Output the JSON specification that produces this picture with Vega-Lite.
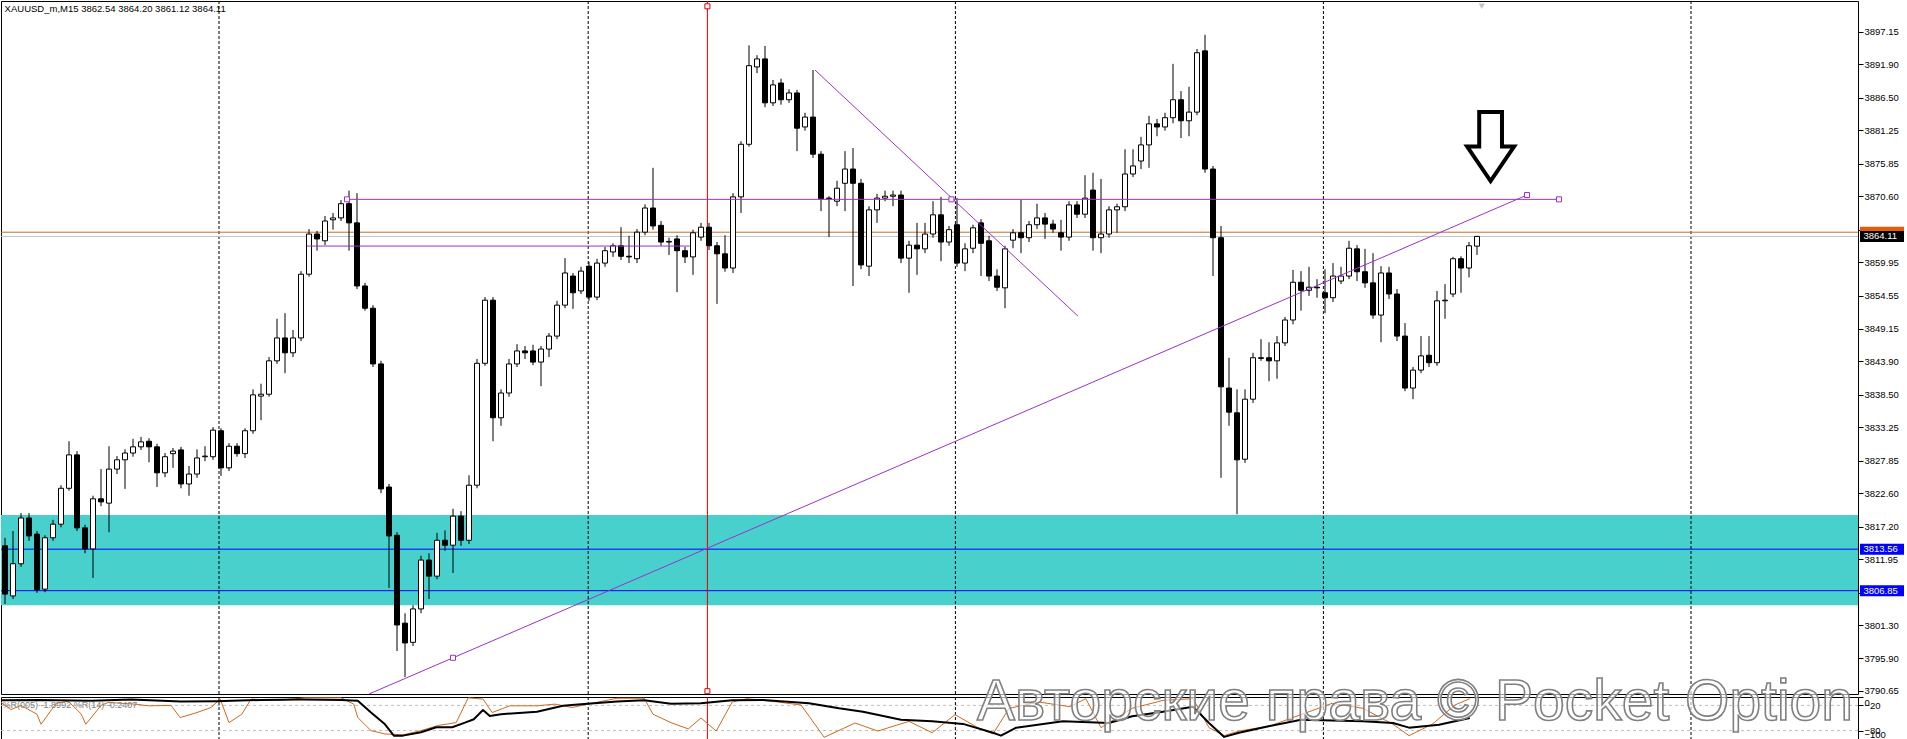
{
"$schema":"https://vega.github.io/schema/vega-lite/v6.json",
"padding":0,
"background":"white",
"spacing":3,
"bounds":"flush",
"config":{"view":{"stroke":"black","strokeWidth":1},"font":"Liberation Sans","scale":{"continuousPadding":0},
 "axis":{"labelOverlap":false,"grid":false,"domain":false,"tickSize":5,"tickColor":"#000000","labelColor":"#000000","labelFont":"Liberation Sans","labelFontSize":9.5,"labelPadding":1}},
"datasets":{
"candles":[
{"t":0,"o":3814.1,"h":3815.4,"l":3804.7,"c":3806.3},
{"t":1,"o":3806.0,"h":3816.5,"l":3805.5,"c":3811.2},
{"t":2,"o":3811.2,"h":3819.4,"l":3810.7,"c":3818.6},
{"t":3,"o":3818.6,"h":3819.4,"l":3814.9,"c":3815.7},
{"t":4,"o":3816.0,"h":3816.5,"l":3806.5,"c":3807.0},
{"t":5,"o":3807.1,"h":3815.8,"l":3806.6,"c":3815.4},
{"t":6,"o":3815.4,"h":3818.3,"l":3814.9,"c":3817.6},
{"t":7,"o":3817.6,"h":3823.9,"l":3817.1,"c":3823.4},
{"t":8,"o":3823.4,"h":3831.0,"l":3823.0,"c":3828.8},
{"t":9,"o":3828.8,"h":3829.4,"l":3816.5,"c":3817.0},
{"t":10,"o":3817.0,"h":3817.5,"l":3812.9,"c":3813.6},
{"t":11,"o":3813.6,"h":3822.2,"l":3808.9,"c":3821.7},
{"t":12,"o":3821.7,"h":3826.5,"l":3820.5,"c":3821.2},
{"t":13,"o":3821.0,"h":3830.2,"l":3816.3,"c":3826.5},
{"t":14,"o":3826.5,"h":3828.6,"l":3825.7,"c":3828.0},
{"t":15,"o":3828.0,"h":3829.7,"l":3823.3,"c":3829.1},
{"t":16,"o":3829.1,"h":3831.4,"l":3828.5,"c":3830.1},
{"t":17,"o":3830.1,"h":3831.7,"l":3829.6,"c":3830.9},
{"t":18,"o":3831.0,"h":3831.5,"l":3827.6,"c":3830.1},
{"t":19,"o":3830.1,"h":3830.6,"l":3823.6,"c":3825.9},
{"t":20,"o":3825.9,"h":3829.1,"l":3825.2,"c":3828.5},
{"t":21,"o":3829.0,"h":3829.9,"l":3826.7,"c":3829.4},
{"t":22,"o":3829.6,"h":3830.1,"l":3823.4,"c":3824.1},
{"t":23,"o":3824.1,"h":3827.0,"l":3822.2,"c":3825.7},
{"t":24,"o":3825.7,"h":3829.7,"l":3825.1,"c":3828.3},
{"t":25,"o":3828.5,"h":3830.2,"l":3827.8,"c":3828.6},
{"t":26,"o":3828.5,"h":3833.3,"l":3828.0,"c":3832.8},
{"t":27,"o":3832.7,"h":3833.1,"l":3825.4,"c":3826.7},
{"t":28,"o":3826.7,"h":3830.7,"l":3826.2,"c":3830.2},
{"t":29,"o":3830.2,"h":3830.7,"l":3828.5,"c":3829.0},
{"t":30,"o":3829.0,"h":3833.1,"l":3828.3,"c":3832.7},
{"t":31,"o":3832.7,"h":3839.4,"l":3832.2,"c":3838.5},
{"t":32,"o":3838.3,"h":3840.3,"l":3834.4,"c":3838.6},
{"t":33,"o":3838.6,"h":3844.6,"l":3838.2,"c":3844.0},
{"t":34,"o":3844.0,"h":3850.8,"l":3843.5,"c":3847.7},
{"t":35,"o":3847.7,"h":3851.7,"l":3842.0,"c":3845.3},
{"t":36,"o":3845.3,"h":3849.0,"l":3844.6,"c":3847.7},
{"t":37,"o":3847.7,"h":3858.5,"l":3847.2,"c":3858.0},
{"t":38,"o":3858.0,"h":3865.3,"l":3857.6,"c":3864.5},
{"t":39,"o":3864.5,"h":3865.0,"l":3861.8,"c":3863.7},
{"t":40,"o":3863.4,"h":3867.4,"l":3862.7,"c":3866.6},
{"t":41,"o":3866.8,"h":3867.9,"l":3865.2,"c":3867.1},
{"t":42,"o":3867.1,"h":3870.0,"l":3866.6,"c":3869.4},
{"t":43,"o":3869.4,"h":3871.5,"l":3861.8,"c":3866.3},
{"t":44,"o":3866.3,"h":3871.1,"l":3855.6,"c":3856.1},
{"t":45,"o":3856.1,"h":3856.6,"l":3852.1,"c":3852.5},
{"t":46,"o":3852.5,"h":3853.0,"l":3843.0,"c":3843.5},
{"t":47,"o":3843.5,"h":3844.0,"l":3822.6,"c":3823.3},
{"t":48,"o":3823.6,"h":3824.1,"l":3807.3,"c":3815.7},
{"t":49,"o":3815.8,"h":3816.3,"l":3797.1,"c":3801.3},
{"t":50,"o":3801.6,"h":3803.2,"l":3792.9,"c":3798.4},
{"t":51,"o":3798.5,"h":3804.5,"l":3797.9,"c":3803.9},
{"t":52,"o":3803.9,"h":3812.5,"l":3803.2,"c":3811.8},
{"t":53,"o":3811.8,"h":3812.9,"l":3805.5,"c":3809.2},
{"t":54,"o":3809.2,"h":3816.2,"l":3808.7,"c":3815.0},
{"t":55,"o":3815.0,"h":3816.6,"l":3813.3,"c":3814.2},
{"t":56,"o":3814.2,"h":3820.1,"l":3809.7,"c":3818.9},
{"t":57,"o":3818.9,"h":3819.7,"l":3814.1,"c":3815.0},
{"t":58,"o":3815.0,"h":3825.5,"l":3814.4,"c":3823.9},
{"t":59,"o":3823.9,"h":3844.3,"l":3823.4,"c":3843.6},
{"t":60,"o":3843.6,"h":3854.3,"l":3843.2,"c":3853.8},
{"t":61,"o":3853.8,"h":3854.3,"l":3831.0,"c":3834.8},
{"t":62,"o":3834.8,"h":3839.4,"l":3833.5,"c":3838.8},
{"t":63,"o":3838.8,"h":3844.3,"l":3838.2,"c":3843.5},
{"t":64,"o":3843.5,"h":3846.7,"l":3843.0,"c":3845.6},
{"t":65,"o":3845.6,"h":3846.4,"l":3844.3,"c":3845.3},
{"t":66,"o":3845.6,"h":3846.6,"l":3843.3,"c":3843.8},
{"t":67,"o":3843.8,"h":3846.4,"l":3839.9,"c":3845.9},
{"t":68,"o":3845.9,"h":3848.5,"l":3844.6,"c":3848.0},
{"t":69,"o":3848.0,"h":3853.7,"l":3847.5,"c":3853.0},
{"t":70,"o":3853.0,"h":3860.6,"l":3852.5,"c":3858.2},
{"t":71,"o":3857.7,"h":3858.2,"l":3852.4,"c":3855.0},
{"t":72,"o":3855.3,"h":3859.2,"l":3854.8,"c":3858.5},
{"t":73,"o":3859.3,"h":3860.0,"l":3853.7,"c":3854.3},
{"t":74,"o":3854.3,"h":3860.5,"l":3853.8,"c":3859.8},
{"t":75,"o":3859.8,"h":3862.4,"l":3859.2,"c":3861.8},
{"t":76,"o":3861.6,"h":3863.0,"l":3860.8,"c":3862.6},
{"t":77,"o":3862.6,"h":3865.6,"l":3860.3,"c":3860.9},
{"t":78,"o":3860.9,"h":3864.2,"l":3859.8,"c":3860.8},
{"t":79,"o":3860.5,"h":3865.3,"l":3859.8,"c":3864.8},
{"t":80,"o":3864.8,"h":3869.3,"l":3864.3,"c":3868.7},
{"t":81,"o":3868.7,"h":3875.2,"l":3865.2,"c":3865.8},
{"t":82,"o":3865.9,"h":3866.6,"l":3862.6,"c":3863.2},
{"t":83,"o":3863.2,"h":3863.9,"l":3861.1,"c":3863.3},
{"t":84,"o":3863.7,"h":3864.3,"l":3855.1,"c":3861.8},
{"t":85,"o":3861.8,"h":3862.4,"l":3859.8,"c":3860.8},
{"t":86,"o":3860.8,"h":3865.2,"l":3857.9,"c":3864.7},
{"t":87,"o":3864.0,"h":3866.3,"l":3863.4,"c":3865.6},
{"t":88,"o":3865.6,"h":3866.3,"l":3861.9,"c":3862.6},
{"t":89,"o":3862.6,"h":3863.2,"l":3853.2,"c":3861.3},
{"t":90,"o":3861.3,"h":3864.3,"l":3858.4,"c":3859.0},
{"t":91,"o":3859.0,"h":3871.1,"l":3858.2,"c":3870.5},
{"t":92,"o":3870.5,"h":3879.5,"l":3867.9,"c":3879.0},
{"t":93,"o":3879.0,"h":3895.0,"l":3878.6,"c":3891.7},
{"t":94,"o":3891.5,"h":3893.4,"l":3890.5,"c":3892.8},
{"t":95,"o":3892.8,"h":3894.9,"l":3885.0,"c":3885.7},
{"t":96,"o":3885.7,"h":3889.4,"l":3885.2,"c":3888.6},
{"t":97,"o":3888.9,"h":3889.6,"l":3885.4,"c":3886.2},
{"t":98,"o":3886.2,"h":3887.9,"l":3885.7,"c":3887.3},
{"t":99,"o":3887.3,"h":3887.8,"l":3877.9,"c":3881.6},
{"t":100,"o":3881.8,"h":3884.1,"l":3881.2,"c":3883.4},
{"t":101,"o":3883.4,"h":3891.0,"l":3876.8,"c":3877.4},
{"t":102,"o":3877.4,"h":3877.9,"l":3868.2,"c":3870.2},
{"t":103,"o":3870.2,"h":3870.6,"l":3864.0,"c":3870.3},
{"t":104,"o":3869.8,"h":3873.1,"l":3869.0,"c":3871.9},
{"t":105,"o":3872.7,"h":3877.9,"l":3868.2,"c":3875.0},
{"t":106,"o":3875.0,"h":3878.4,"l":3856.1,"c":3872.7},
{"t":107,"o":3872.7,"h":3873.4,"l":3858.8,"c":3859.5},
{"t":108,"o":3859.3,"h":3869.0,"l":3857.7,"c":3868.4},
{"t":109,"o":3868.4,"h":3871.0,"l":3866.3,"c":3870.3},
{"t":110,"o":3870.3,"h":3871.5,"l":3869.8,"c":3870.6},
{"t":111,"o":3870.6,"h":3871.5,"l":3869.0,"c":3870.8},
{"t":112,"o":3870.8,"h":3871.5,"l":3859.8,"c":3860.6},
{"t":113,"o":3860.6,"h":3863.4,"l":3855.0,"c":3862.7},
{"t":114,"o":3862.7,"h":3866.3,"l":3857.9,"c":3862.1},
{"t":115,"o":3862.1,"h":3866.3,"l":3861.4,"c":3864.5},
{"t":116,"o":3864.5,"h":3869.8,"l":3863.9,"c":3867.6},
{"t":117,"o":3867.6,"h":3870.5,"l":3860.1,"c":3863.2},
{"t":118,"o":3863.2,"h":3865.8,"l":3862.6,"c":3865.2},
{"t":119,"o":3866.0,"h":3870.3,"l":3859.2,"c":3859.8},
{"t":120,"o":3859.8,"h":3863.0,"l":3858.5,"c":3862.1},
{"t":121,"o":3862.2,"h":3866.0,"l":3861.4,"c":3865.5},
{"t":122,"o":3866.3,"h":3866.9,"l":3857.7,"c":3863.0},
{"t":123,"o":3863.4,"h":3864.2,"l":3856.9,"c":3857.7},
{"t":124,"o":3857.7,"h":3858.8,"l":3855.3,"c":3855.9},
{"t":125,"o":3855.8,"h":3862.6,"l":3852.5,"c":3862.1},
{"t":126,"o":3863.5,"h":3865.3,"l":3862.2,"c":3864.7},
{"t":127,"o":3864.7,"h":3870.0,"l":3861.4,"c":3863.9},
{"t":128,"o":3863.9,"h":3866.6,"l":3863.2,"c":3866.0},
{"t":129,"o":3866.0,"h":3869.4,"l":3865.3,"c":3867.1},
{"t":130,"o":3867.1,"h":3867.9,"l":3863.7,"c":3866.1},
{"t":131,"o":3866.1,"h":3866.8,"l":3864.7,"c":3865.3},
{"t":132,"o":3864.7,"h":3866.8,"l":3861.8,"c":3864.0},
{"t":133,"o":3864.0,"h":3869.8,"l":3863.4,"c":3869.2},
{"t":134,"o":3869.2,"h":3869.8,"l":3867.1,"c":3867.7},
{"t":135,"o":3867.7,"h":3874.0,"l":3867.1,"c":3870.3},
{"t":136,"o":3871.6,"h":3874.4,"l":3861.8,"c":3863.9},
{"t":137,"o":3863.9,"h":3873.4,"l":3861.4,"c":3864.5},
{"t":138,"o":3864.5,"h":3869.0,"l":3863.9,"c":3868.4},
{"t":139,"o":3868.4,"h":3869.4,"l":3864.7,"c":3868.9},
{"t":140,"o":3868.9,"h":3878.2,"l":3868.2,"c":3874.2},
{"t":141,"o":3874.2,"h":3878.2,"l":3873.7,"c":3875.5},
{"t":142,"o":3876.3,"h":3880.2,"l":3875.0,"c":3878.9},
{"t":143,"o":3878.9,"h":3883.6,"l":3875.2,"c":3882.3},
{"t":144,"o":3882.3,"h":3883.1,"l":3880.3,"c":3881.8},
{"t":145,"o":3881.8,"h":3884.1,"l":3881.2,"c":3883.3},
{"t":146,"o":3883.3,"h":3892.0,"l":3882.4,"c":3886.2},
{"t":147,"o":3886.2,"h":3887.6,"l":3880.0,"c":3882.8},
{"t":148,"o":3882.8,"h":3888.3,"l":3880.3,"c":3884.2},
{"t":149,"o":3884.2,"h":3894.4,"l":3883.7,"c":3893.8},
{"t":150,"o":3894.1,"h":3896.7,"l":3874.4,"c":3875.0},
{"t":151,"o":3875.0,"h":3875.5,"l":3857.7,"c":3863.9},
{"t":152,"o":3863.9,"h":3865.8,"l":3825.1,"c":3839.8},
{"t":153,"o":3839.6,"h":3844.5,"l":3833.5,"c":3835.7},
{"t":154,"o":3835.6,"h":3839.4,"l":3819.2,"c":3828.0},
{"t":155,"o":3828.1,"h":3839.4,"l":3827.5,"c":3837.8},
{"t":156,"o":3837.8,"h":3845.3,"l":3837.2,"c":3844.5},
{"t":157,"o":3844.5,"h":3847.5,"l":3844.0,"c":3844.4},
{"t":158,"o":3844.5,"h":3847.0,"l":3840.7,"c":3844.0},
{"t":159,"o":3844.0,"h":3848.0,"l":3841.1,"c":3846.9},
{"t":160,"o":3846.9,"h":3851.1,"l":3846.4,"c":3850.6},
{"t":161,"o":3850.6,"h":3858.7,"l":3849.9,"c":3856.7},
{"t":162,"o":3856.7,"h":3858.5,"l":3852.1,"c":3855.4},
{"t":163,"o":3855.4,"h":3859.2,"l":3854.5,"c":3855.9},
{"t":164,"o":3855.9,"h":3857.2,"l":3854.2,"c":3855.8},
{"t":165,"o":3855.0,"h":3858.8,"l":3851.7,"c":3854.2},
{"t":166,"o":3854.2,"h":3859.8,"l":3853.5,"c":3857.7},
{"t":167,"o":3856.9,"h":3859.2,"l":3856.4,"c":3857.7},
{"t":168,"o":3857.7,"h":3863.4,"l":3857.2,"c":3862.2},
{"t":169,"o":3862.1,"h":3862.7,"l":3856.9,"c":3858.4},
{"t":170,"o":3858.4,"h":3862.1,"l":3855.8,"c":3856.6},
{"t":171,"o":3856.6,"h":3861.4,"l":3850.8,"c":3851.4},
{"t":172,"o":3851.4,"h":3859.3,"l":3847.0,"c":3858.2},
{"t":173,"o":3858.2,"h":3859.2,"l":3854.0,"c":3854.8},
{"t":174,"o":3854.8,"h":3855.6,"l":3847.2,"c":3848.0},
{"t":175,"o":3848.0,"h":3850.1,"l":3839.1,"c":3839.6},
{"t":176,"o":3839.6,"h":3843.0,"l":3837.8,"c":3842.5},
{"t":177,"o":3842.5,"h":3848.0,"l":3842.0,"c":3844.8},
{"t":178,"o":3844.9,"h":3848.0,"l":3843.0,"c":3843.7},
{"t":179,"o":3843.7,"h":3855.3,"l":3843.2,"c":3853.7},
{"t":180,"o":3853.7,"h":3856.4,"l":3850.8,"c":3853.8},
{"t":181,"o":3854.8,"h":3860.8,"l":3854.3,"c":3860.5},
{"t":182,"o":3860.5,"h":3860.9,"l":3855.0,"c":3859.0},
{"t":183,"o":3859.0,"h":3863.2,"l":3857.5,"c":3862.6},
{"t":184,"o":3862.54,"h":3864.20,"l":3861.12,"c":3864.11}
],
"grid":[{"t":26.75},{"t":72.9},{"t":118.8},{"t":164.8},{"t":210.75}],
"cursor":[{"t":87.8}],
"cursorMarks":[{"t":87.8,"p":3901.3},{"t":87.8,"p":3790.6}],
"levels":[{"level":"Ask","p":3864.79},{"level":"Bid","p":3864.11},{"level":"Level 1","p":3813.56},{"level":"Level 2","p":3806.85}],
"trendlines":[
{"id":"top","t":42.75,"p":3870.1},{"id":"top","t":194.25,"p":3870.1},
{"id":"mid","t":37.75,"p":3862.55},{"id":"mid","t":85.6,"p":3862.55},
{"id":"diag","t":101.25,"p":3891.0},{"id":"diag","t":134.1,"p":3851.25},
{"id":"trend","t":45.5,"p":3790.15},{"id":"trend","t":190.25,"p":3870.8}
],
"anchors":[{"t":42.75,"p":3870.1},{"t":118.3,"p":3870.1},{"t":194.25,"p":3870.1},{"t":56,"p":3796.0},{"t":190.25,"p":3870.8}],
"arrow":[{"t":185.7,"p":3878.64}],
"shift":[{"t":184.6,"p":3901.3}],
"header":[{"label":"XAUUSD_m,M15  3862.54 3864.20 3861.12 3864.11"}],
"wprLevels":[{"v":-20},{"v":-80}],
"wprSlow":[
{"t":-0.5,"v":-8},{"t":4.5,"v":-7},{"t":10.75,"v":-9},{"t":15.75,"v":-6},{"t":22,"v":-11},{"t":26.4,"v":-10},{"t":32,"v":-7},{"t":37,"v":-6},{"t":42,"v":-7},{"t":44.1,"v":-9},{"t":45.75,"v":-37},{"t":47.5,"v":-65},{"t":48.6,"v":-92},{"t":49.75,"v":-92},{"t":52,"v":-84},{"t":53.9,"v":-72},{"t":55.9,"v":-72},{"t":57.5,"v":-61},{"t":58.6,"v":-53},{"t":59.75,"v":-31},{"t":60.6,"v":-45},{"t":62,"v":-41},{"t":66.5,"v":-35},{"t":69.75,"v":-21},{"t":72,"v":-17},{"t":76.5,"v":-11},{"t":79.9,"v":-8},{"t":83.25,"v":-16},{"t":87,"v":-15},{"t":90.9,"v":-8},{"t":94.75,"v":-7},{"t":100.5,"v":-15},{"t":104.25,"v":-27},{"t":107.25,"v":-35},{"t":112,"v":-54},{"t":115.9,"v":-58},{"t":119.75,"v":-64},{"t":123.5,"v":-85},{"t":124.5,"v":-92},{"t":126.4,"v":-73},{"t":132.25,"v":-58},{"t":138,"v":-62},{"t":140.9,"v":-46},{"t":144.75,"v":-35},{"t":148.5,"v":-23},{"t":150.5,"v":-62},{"t":152.4,"v":-95},{"t":154.25,"v":-85},{"t":158.1,"v":-69},{"t":162,"v":-54},{"t":169.75,"v":-58},{"t":173.5,"v":-62},{"t":175.5,"v":-73},{"t":179.25,"v":-66},{"t":183.1,"v":-50}
],
"wprFast":[
{"t":-0.5,"v":-13},{"t":0.75,"v":-30},{"t":2,"v":-20},{"t":4,"v":-41},{"t":4.5,"v":-65},{"t":6.4,"v":-15},{"t":7.9,"v":-10},{"t":9.5,"v":-40},{"t":10.1,"v":-65},{"t":12,"v":-20},{"t":12.9,"v":-13},{"t":16.25,"v":-17},{"t":17.9,"v":-21},{"t":20.75,"v":-20},{"t":21.9,"v":-49},{"t":24,"v":-37},{"t":25.75,"v":-25},{"t":26.9,"v":-5},{"t":28,"v":-61},{"t":29.6,"v":-41},{"t":30.75,"v":-5},{"t":34.1,"v":-8},{"t":37.5,"v":-2},{"t":42,"v":-2},{"t":43.6,"v":-17},{"t":44.1,"v":-49},{"t":45.75,"v":-80},{"t":47.5,"v":-88},{"t":49.75,"v":-90},{"t":52,"v":-80},{"t":54.1,"v":-68},{"t":56.4,"v":-61},{"t":57.9,"v":-2},{"t":59.75,"v":-5},{"t":60.9,"v":-37},{"t":63.1,"v":-21},{"t":66.5,"v":-21},{"t":68.75,"v":-17},{"t":70.9,"v":-25},{"t":73.1,"v":-16},{"t":76.5,"v":-3},{"t":79.9,"v":-3},{"t":81,"v":-41},{"t":83.25,"v":-61},{"t":85.4,"v":-76},{"t":87,"v":-50},{"t":88.9,"v":-81},{"t":90.9,"v":-12},{"t":92.75,"v":-4},{"t":96.6,"v":-12},{"t":99.5,"v":-19},{"t":102.4,"v":-96},{"t":106.25,"v":-62},{"t":109.1,"v":-81},{"t":113,"v":-58},{"t":115.9,"v":-85},{"t":118.75,"v":-42},{"t":121.6,"v":-73},{"t":123.5,"v":-88},{"t":125.5,"v":-27},{"t":129.25,"v":-12},{"t":133.1,"v":-23},{"t":135.1,"v":-4},{"t":137,"v":-73},{"t":140.9,"v":-27},{"t":144.75,"v":-8},{"t":148.5,"v":-4},{"t":150.5,"v":-73},{"t":152.4,"v":-92},{"t":154.25,"v":-81},{"t":158.1,"v":-69},{"t":162,"v":-42},{"t":165.9,"v":-15},{"t":169.75,"v":-27},{"t":173.5,"v":-65},{"t":175.5,"v":-92},{"t":178.4,"v":-65},{"t":181.25,"v":-19},{"t":183.1,"v":-4}
]
},
"vconcat":[
{
"width":1857,"height":693,
"layer":[
{"data":{"values":[{"zone":"demand","top":3819.1,"bottom":3804.5}]},
 "mark":{"type":"rect","color":"#48D1CC"},
 "encoding":{
  "x":{"datum":-0.5,"type":"quantitative","scale":{"domain":[-0.5,231.625],"nice":false,"zero":false,"padding":0},"axis":null},
  "x2":{"datum":231.625},
  "y":{"field":"top","type":"quantitative","scale":{"domain":[3790.15,3902.16],"nice":false,"zero":false,"padding":0},
   "axis":{"orient":"right","title":null,"values":[3897.15,3891.90,3886.50,3881.25,3875.85,3870.60,3865.20,3859.95,3854.55,3849.15,3843.90,3838.50,3833.25,3827.85,3822.60,3817.20,3811.95,3806.55,3801.30,3795.90,3790.65],"format":".2f","labelFlush":false,"labelOverlap":false,"zindex":0}},
  "y2":{"field":"bottom"}}},
{"data":{"name":"grid"},
 "mark":{"type":"rule","color":"#000000","strokeWidth":1,"strokeDash":[3,2]},
 "encoding":{"x":{"field":"t","type":"quantitative","axis":null}}},
{"data":{"name":"levels"},
 "mark":{"type":"rule","strokeWidth":1},
 "encoding":{
  "y":{"field":"p","type":"quantitative","axis":{"orient":"right","title":null,"values":[3897.15,3891.90,3886.50,3881.25,3875.85,3870.60,3865.20,3859.95,3854.55,3849.15,3843.90,3838.50,3833.25,3827.85,3822.60,3817.20,3811.95,3806.55,3801.30,3795.90,3790.65],"format":".2f","labelFlush":false,"labelOverlap":false,"zindex":0}},
  "stroke":{"field":"level","type":"nominal","scale":{"domain":["Ask","Bid","Level 1","Level 2"],"range":["#D2691E","#C0C0C0","#0000FF","#0000FF"]},"legend":null}}},
{"data":{"name":"cursor"},
 "mark":{"type":"rule","color":"#E00000","strokeWidth":1},
 "encoding":{"x":{"field":"t","type":"quantitative","axis":null}}},
{"data":{"name":"candles"},
 "mark":{"type":"rule","color":"#000000","strokeWidth":1},
 "encoding":{
  "x":{"field":"t","type":"quantitative","axis":null},
  "y":{"field":"l","type":"quantitative","axis":{"orient":"right","title":null,"values":[3897.15,3891.90,3886.50,3881.25,3875.85,3870.60,3865.20,3859.95,3854.55,3849.15,3843.90,3838.50,3833.25,3827.85,3822.60,3817.20,3811.95,3806.55,3801.30,3795.90,3790.65],"format":".2f","labelFlush":false,"labelOverlap":false,"zindex":0}},
  "y2":{"field":"h"}}},
{"data":{"name":"candles"},
 "mark":{"type":"bar","size":5,"stroke":"#000000","strokeWidth":1},
 "encoding":{
  "x":{"field":"t","type":"quantitative","axis":null},
  "y":{"field":"o","type":"quantitative","axis":{"orient":"right","title":null,"values":[3897.15,3891.90,3886.50,3881.25,3875.85,3870.60,3865.20,3859.95,3854.55,3849.15,3843.90,3838.50,3833.25,3827.85,3822.60,3817.20,3811.95,3806.55,3801.30,3795.90,3790.65],"format":".2f","labelFlush":false,"labelOverlap":false,"zindex":0}},
  "y2":{"field":"c"},
  "fill":{"condition":{"test":"datum.c < datum.o","value":"#000000"},"value":"#ffffff"}}},
{"data":{"name":"trendlines"},
 "mark":{"type":"line","color":"#9932CC","strokeWidth":1,"clip":true,"strokeJoin":"round"},
 "encoding":{
  "x":{"field":"t","type":"quantitative","axis":null},
  "y":{"field":"p","type":"quantitative","axis":{"orient":"right","title":null,"values":[3897.15,3891.90,3886.50,3881.25,3875.85,3870.60,3865.20,3859.95,3854.55,3849.15,3843.90,3838.50,3833.25,3827.85,3822.60,3817.20,3811.95,3806.55,3801.30,3795.90,3790.65],"format":".2f","labelFlush":false,"labelOverlap":false,"zindex":0}},
  "detail":{"field":"id"}}},
{"data":{"name":"anchors"},
 "mark":{"type":"point","shape":"square","size":25,"filled":true,"fill":"#ffffff","stroke":"#9932CC","strokeWidth":1,"opacity":1},
 "encoding":{
  "x":{"field":"t","type":"quantitative","axis":null},
  "y":{"field":"p","type":"quantitative","axis":{"orient":"right","title":null,"values":[3897.15,3891.90,3886.50,3881.25,3875.85,3870.60,3865.20,3859.95,3854.55,3849.15,3843.90,3838.50,3833.25,3827.85,3822.60,3817.20,3811.95,3806.55,3801.30,3795.90,3790.65],"format":".2f","labelFlush":false,"labelOverlap":false,"zindex":0}}}},
{"data":{"name":"cursorMarks"},
 "mark":{"type":"point","shape":"square","size":25,"filled":true,"fill":"#ffffff","stroke":"#E00000","strokeWidth":1,"opacity":1},
 "encoding":{
  "x":{"field":"t","type":"quantitative","axis":null},
  "y":{"field":"p","type":"quantitative","axis":{"orient":"right","title":null,"values":[3897.15,3891.90,3886.50,3881.25,3875.85,3870.60,3865.20,3859.95,3854.55,3849.15,3843.90,3838.50,3833.25,3827.85,3822.60,3817.20,3811.95,3806.55,3801.30,3795.90,3790.65],"format":".2f","labelFlush":false,"labelOverlap":false,"zindex":0}}}},
{"data":{"name":"shift"},
 "mark":{"type":"point","shape":"triangle-down","size":40,"filled":true,"fill":"#c4c4c4","opacity":1},
 "encoding":{
  "x":{"field":"t","type":"quantitative","axis":null},
  "y":{"field":"p","type":"quantitative","axis":{"orient":"right","title":null,"values":[3897.15,3891.90,3886.50,3881.25,3875.85,3870.60,3865.20,3859.95,3854.55,3849.15,3843.90,3838.50,3833.25,3827.85,3822.60,3817.20,3811.95,3806.55,3801.30,3795.90,3790.65],"format":".2f","labelFlush":false,"labelOverlap":false,"zindex":0}}}},
{"data":{"name":"arrow"},
 "mark":{"type":"point","shape":"M-0.33,-1L0.33,-1L0.33,0L0.68,0L0,1L-0.68,0L-0.33,0Z","size":4761,"filled":true,"fill":"#ffffff","stroke":"#000000","strokeWidth":4,"opacity":1},
 "encoding":{
  "x":{"field":"t","type":"quantitative","axis":null},
  "y":{"field":"p","type":"quantitative","axis":{"orient":"right","title":null,"values":[3897.15,3891.90,3886.50,3881.25,3875.85,3870.60,3865.20,3859.95,3854.55,3849.15,3843.90,3838.50,3833.25,3827.85,3822.60,3817.20,3811.95,3806.55,3801.30,3795.90,3790.65],"format":".2f","labelFlush":false,"labelOverlap":false,"zindex":0}}}},
{"data":{"name":"header"},
 "mark":{"type":"text","align":"left","baseline":"middle","fontSize":9.5,"font":"Liberation Sans","color":"#000000"},
 "encoding":{
  "x":{"datum":-0.05,"type":"quantitative","axis":null},
  "y":{"datum":3900.85,"type":"quantitative","axis":{"orient":"right","title":null,"values":[3897.15,3891.90,3886.50,3881.25,3875.85,3870.60,3865.20,3859.95,3854.55,3849.15,3843.90,3838.50,3833.25,3827.85,3822.60,3817.20,3811.95,3806.55,3801.30,3795.90,3790.65],"format":".2f","labelFlush":false,"labelOverlap":false,"zindex":0}},
  "text":{"field":"label"}}},
{"data":{"name":"levels"},
 "mark":{"type":"bar","orient":"horizontal","size":11},
 "encoding":{
  "x":{"datum":231.875,"type":"quantitative","axis":null},
  "x2":{"datum":237.375},
  "y":{"field":"p","type":"quantitative","axis":{"orient":"right","title":null,"values":[3897.15,3891.90,3886.50,3881.25,3875.85,3870.60,3865.20,3859.95,3854.55,3849.15,3843.90,3838.50,3833.25,3827.85,3822.60,3817.20,3811.95,3806.55,3801.30,3795.90,3790.65],"format":".2f","labelFlush":false,"labelOverlap":false,"zindex":0}},
  "fill":{"field":"level","type":"nominal","scale":{"domain":["Ask","Bid","Level 1","Level 2"],"range":["#E8590C","#000000","#0000FF","#0000FF"]},"legend":null}}},
{"data":{"name":"levels"},
 "transform":[{"filter":"datum.level != 'Ask'"}],
 "mark":{"type":"text","align":"left","baseline":"middle","fontSize":9.5,"font":"Liberation Sans","color":"#ffffff"},
 "encoding":{
  "x":{"datum":232.3,"type":"quantitative","axis":null},
  "y":{"field":"p","type":"quantitative","axis":{"orient":"right","title":null,"values":[3897.15,3891.90,3886.50,3881.25,3875.85,3870.60,3865.20,3859.95,3854.55,3849.15,3843.90,3838.50,3833.25,3827.85,3822.60,3817.20,3811.95,3806.55,3801.30,3795.90,3790.65],"format":".2f","labelFlush":false,"labelOverlap":false,"zindex":0}},
  "text":{"field":"p","type":"quantitative","format":".2f"}}}
]
},
{
"width":1857,"height":42,
"layer":[
{"data":{"name":"wprLevels"},
 "mark":{"type":"rule","color":"#bdbdbd","strokeWidth":1,"strokeDash":[3,3]},
 "encoding":{
  "y":{"field":"v","type":"quantitative","scale":{"domain":[-100,0],"nice":false,"zero":false,"padding":0},
   "axis":{"orient":"right","title":null,"values":[0,-20,-80,-100],"format":"d","labelFlush":true,"labelOverlap":false,"zindex":0}}}},
{"data":{"name":"grid"},
 "mark":{"type":"rule","color":"#000000","strokeWidth":1,"strokeDash":[3,2]},
 "encoding":{"x":{"field":"t","type":"quantitative","scale":{"domain":[-0.5,231.625],"nice":false,"zero":false,"padding":0},"axis":null}}},
{"data":{"name":"cursor"},
 "mark":{"type":"rule","color":"#E00000","strokeWidth":1},
 "encoding":{"x":{"field":"t","type":"quantitative","axis":null}}},
{"data":{"name":"wprFast"},
 "mark":{"type":"line","color":"#D2691E","strokeWidth":1,"clip":true,"strokeJoin":"round"},
 "encoding":{
  "x":{"field":"t","type":"quantitative","axis":null},
  "y":{"field":"v","type":"quantitative","axis":{"orient":"right","title":null,"values":[0,-20,-80,-100],"format":"d","labelFlush":true,"labelOverlap":false,"zindex":0}}}},
{"data":{"name":"wprSlow"},
 "mark":{"type":"line","color":"#000000","strokeWidth":2,"clip":true,"strokeJoin":"round"},
 "encoding":{
  "x":{"field":"t","type":"quantitative","axis":null},
  "y":{"field":"v","type":"quantitative","axis":{"orient":"right","title":null,"values":[0,-20,-80,-100],"format":"d","labelFlush":true,"labelOverlap":false,"zindex":0}}}},
{"data":{"name":"wprLevels"},
 "transform":[{"filter":"datum.v == -20"},{"lookup":"v","from":{"data":{"values":[{"v":-20,"label":"%R(005) -1.8992 %R(14) -0.2407"}]},"key":"v","fields":["label"]}}],
 "mark":{"type":"text","align":"left","baseline":"middle","fontSize":9,"font":"Liberation Sans","color":"#808080"},
 "encoding":{
  "x":{"datum":-0.3,"type":"quantitative","axis":null},
  "y":{"field":"v","type":"quantitative","axis":{"orient":"right","title":null,"values":[0,-20,-80,-100],"format":"d","labelFlush":true,"labelOverlap":false,"zindex":0}},
  "text":{"field":"label"}}},
{"data":{"name":"wprLevels"},
 "transform":[{"filter":"datum.v == -20"},{"lookup":"v","from":{"data":{"values":[{"v":-20,"label":"Авторские права © Pocket Option"}]},"key":"v","fields":["label"]}}],
 "mark":{"type":"text","align":"center","baseline":"middle","dy":-2,"fontSize":57,"font":"Liberation Sans","fill":"#ffffff","fillOpacity":0.6,"stroke":"#808080","strokeWidth":1.6},
 "encoding":{
  "x":{"datum":176.25,"type":"quantitative","axis":null},
  "y":{"field":"v","type":"quantitative","axis":{"orient":"right","title":null,"values":[0,-20,-80,-100],"format":"d","labelFlush":true,"labelOverlap":false,"zindex":0}},
  "text":{"field":"label"}}}
]
}
]
}
